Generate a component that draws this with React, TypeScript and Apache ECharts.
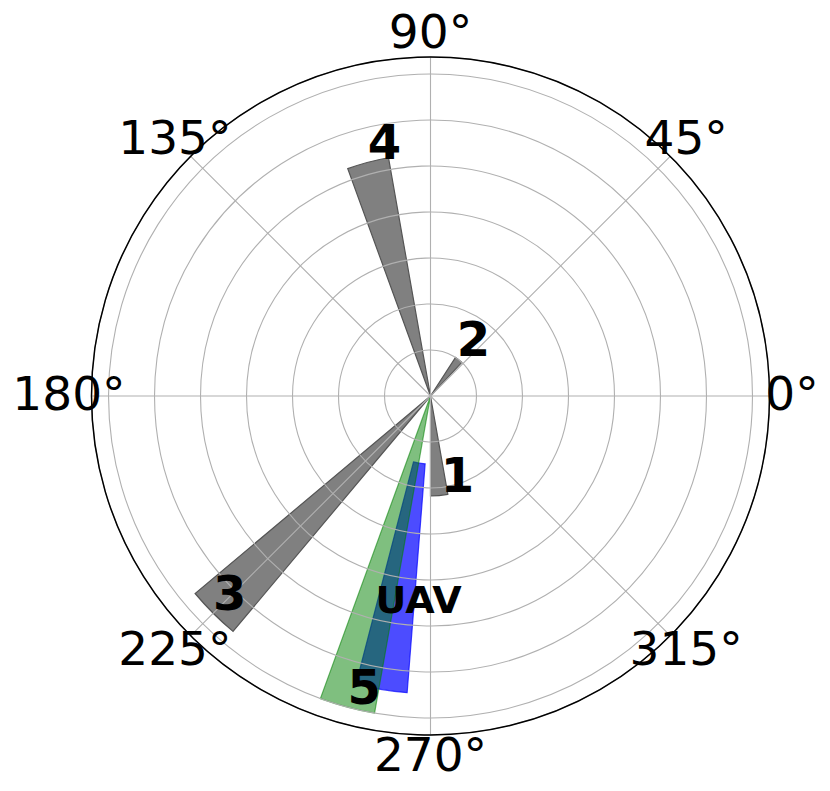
import React, { useEffect, useRef } from "react";
import * as echarts from "echarts";

// ---- data ----
const barNames = ["1", "2", "3", "4", "UAV", "5"];
const barAngles = [275, 52, 225, 105, 260.5, 255]; // centre angle (deg)
const barWidths = [10, 10, 10, 10, 10, 10]; // angular width (deg)
const barInner = [0, 0, 0, 0, 1.48, 0];
const barOuter = [2.17, 1.0, 6.68, 5.26, 6.47, 7.0];
const barFills = ["#808080", "#808080", "#808080", "#808080", "rgba(0,0,255,0.7)", "rgba(0,128,0,0.5)"];
const barStrokes = ["#555555", "#555555", "#555555", "#555555", "rgba(0,0,255,0.7)", "rgba(0,128,0,0.55)"];

const noteTexts = ["1", "2", "3", "4", "5", "UAV"];
const noteAngles = [288.2, 51.5, 224.9, 100.4, 257.3, 266.7];
const noteRadii = [1.876, 1.5, 6.16, 5.55, 6.55, 4.5];

const tickAngles = [0, 45, 90, 135, 180, 225, 270, 315];
const tickLabels = ["0°", "45°", "90°", "135°", "180°", "225°", "270°", "315°"];

const R_MAX = 7.37;
const TICK_LABEL_R = 7.86;
const TEXT_DY = -3;

export default function App() {
  const ref = useRef<HTMLDivElement>(null);
  useEffect(() => {
    if (!ref.current) return;
    const chart = echarts.init(ref.current, undefined, { renderer: "svg" });
    const barData = barNames.map((_, i) => [barOuter[i], barAngles[i], barInner[i], barWidths[i], i]);
    const noteData = noteTexts.map((_, i) => [noteRadii[i], noteAngles[i], i]);
    const tickData = tickAngles.map((a, i) => [TICK_LABEL_R, a, i]);

    chart.setOption({
      animation: false,
      backgroundColor: "#ffffff",
      polar: { center: [430.5, 396], radius: 339 },
      angleAxis: {
        type: "value",
        min: 0,
        max: 360,
        interval: 45,
        startAngle: 0,
        clockwise: false,
        z: 10,
        axisLine: { show: true, lineStyle: { color: "#000000", width: 1.5 } },
        axisTick: { show: false },
        axisLabel: { show: false },
        splitLine: { show: true, lineStyle: { color: "#b0b0b0", width: 1.1 } },
      },
      radiusAxis: {
        type: "value",
        min: 0,
        max: R_MAX,
        interval: 1,
        z: 10,
        axisLine: { show: false },
        axisTick: { show: false },
        axisLabel: { show: false },
        splitLine: { show: true, lineStyle: { color: "#b0b0b0", width: 1.1 } },
      },
      series: [
        {
          type: "custom",
          coordinateSystem: "polar",
          z: 2,
          encode: { radius: 0, angle: 1 },
          data: barData,
          renderItem: (params: any, api: any) => {
            const cs = params.coordSys;
            const cx = cs.cx, cy = cs.cy;
            const rO = api.value(0), ang = api.value(1), rI = api.value(2), w = api.value(3), idx = api.value(4);
            const pO = api.coord([rO, ang]);
            const pI = api.coord([rI, ang]);
            const rPx = Math.hypot(pO[0] - cx, pO[1] - cy);
            const r0Px = rI > 0 ? Math.hypot(pI[0] - cx, pI[1] - cy) : 0;
            const a1 = ((ang - w / 2) * Math.PI) / 180;
            const a2 = ((ang + w / 2) * Math.PI) / 180;
            return {
              type: "sector",
              shape: { cx, cy, r0: r0Px, r: rPx, startAngle: -a2, endAngle: -a1, clockwise: true },
              style: { fill: barFills[idx], stroke: barStrokes[idx], lineWidth: 1.2 },
            };
          },
        },
        {
          type: "custom",
          coordinateSystem: "polar",
          z: 20,
          encode: { radius: 0, angle: 1 },
          data: noteData,
          renderItem: (params: any, api: any) => {
            const idx = api.value(2);
            const p = api.coord([api.value(0), api.value(1)]);
            const t = noteTexts[idx];
            return {
              type: "text",
              x: p[0],
              y: p[1] + TEXT_DY,
              style: {
                text: t,
                font: (t === "UAV" ? "bold 38px" : "bold 48px") + ' "DejaVu Sans", sans-serif',
                fill: "#000000",
                align: "center",
                verticalAlign: "middle",
              },
            };
          },
        },
        {
          type: "custom",
          coordinateSystem: "polar",
          z: 20,
          encode: { radius: 0, angle: 1 },
          data: tickData,
          renderItem: (params: any, api: any) => {
            const idx = api.value(2);
            const p = api.coord([api.value(0), api.value(1)]);
            return {
              type: "text",
              x: p[0],
              y: p[1] + TEXT_DY,
              style: {
                text: tickLabels[idx],
                font: '47px "DejaVu Sans", sans-serif',
                fill: "#000000",
                align: "center",
                verticalAlign: "middle",
              },
            };
          },
        },
      ],
    });
    return () => chart.dispose();
  }, []);
  return <div ref={ref} style={{ position: "fixed", left: 0, top: 0, width: 830, height: 791 }} />;
}
